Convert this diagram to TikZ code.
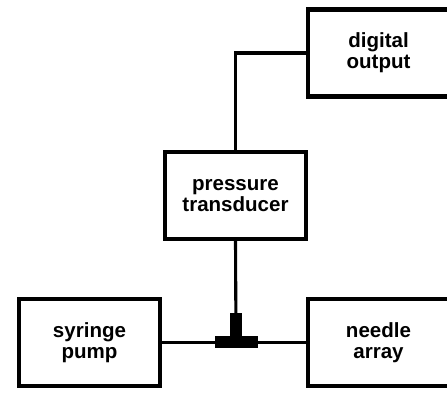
\documentclass[tikz,border=0pt]{standalone}
\usepackage{fontspec}
\setmainfont{Liberation Sans}
\newlength{\unit}
\setlength{\unit}{0.025cm}
\tikzset{%
		kasten/.style={draw,line width=3pt,minimum width=141\unit,minimum height=87\unit,align=center,font=\fontsize{14.6}{15.2}\selectfont\bfseries,inner sep=0pt},
		leitung/.style={draw,line width=2.2pt},
		stueck/.style={fill=black}
	}

\begin{document}
\begin{tikzpicture}[x=\unit,y=\unit]
      \clip (0,0) rectangle (447,394) ;
      \node[kasten] (digital) at (378.5,341) {digital\\output} ;
      \node[kasten] (transducer) at (235.5,198.5) {pressure\\transducer} ;
      \node[kasten] (syringe) at (89.5,51.5) {syringe\\pump} ;
      \node[kasten] (needle) at (378.5,51.5) {needle\\array} ;
      \coordinate (tee) at (236,52) ;

      \draw[leitung] (transducer.north) |- (digital.west) ;
      \draw[leitung] (syringe.east) -- (needle.west) ;
      \draw[leitung] (transducer.south) -- (tee) ;

      % T-Stueck
      \fill[stueck] (tee) ++(-21.5,-6) rectangle ++(43,12) ;
      \fill[stueck] (tee) ++(-6,6) rectangle ++(12,23) ;
\end{tikzpicture}
\end{document}
